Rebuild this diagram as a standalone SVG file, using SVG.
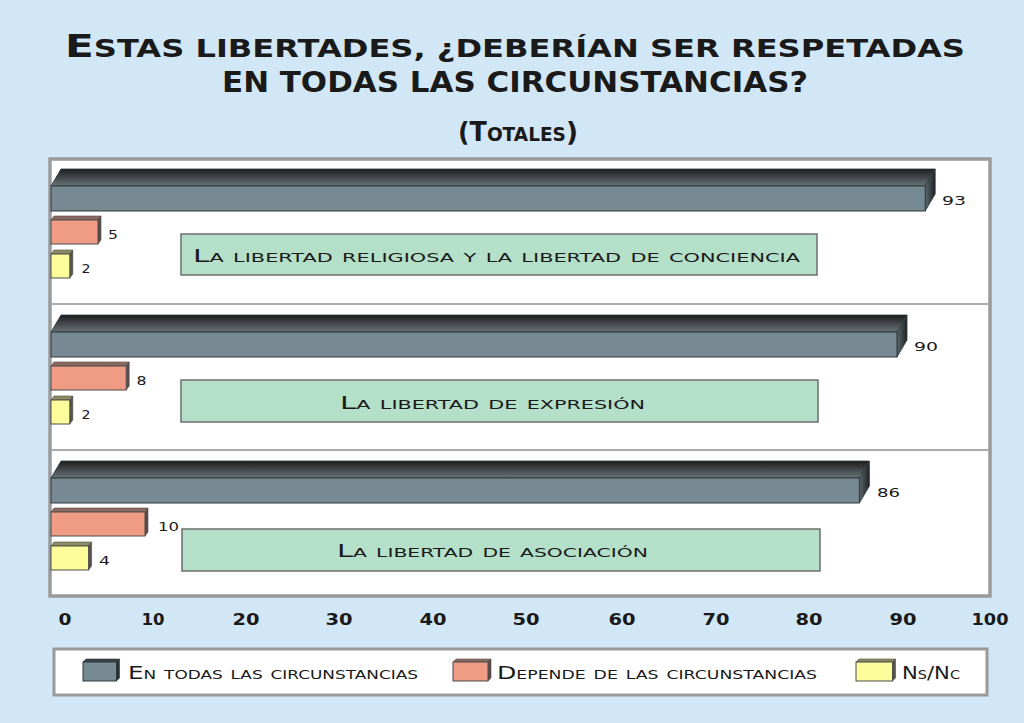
<svg xmlns="http://www.w3.org/2000/svg" width="1024" height="723" viewBox="0 0 1024 723">
<style>
.t{font-family:"DejaVu Sans","Liberation Sans",sans-serif;font-variant:small-caps;fill:#1a1a1a}
.title{font-weight:bold}
.up{text-transform:uppercase;font-variant:normal}
.box{fill:#b4dfc8;stroke:#6e6e6e;stroke-width:1.5}
.boxt{font-size:17px}
.val{font-size:12.5px}
.ax{font-size:16px;font-weight:bold;text-anchor:middle}
.leg{font-size:17.5px}
.bf{fill:#778a94;stroke:#2e383d;stroke-width:1}
.bt{fill:url(#gTop);stroke:#2e383d;stroke-width:0.8}
.bs{fill:url(#gSide);stroke:#2e383d;stroke-width:0.8}
.pf{fill:#f09c84;stroke:#4d4d4d;stroke-width:1}
.pt{fill:#8c6a60;stroke:#4d4d4d;stroke-width:0.6}
.ps{fill:#5a4d49;stroke:#4d4d4d;stroke-width:0.6}
.yf{fill:#fdfc9a;stroke:#4d4d4d;stroke-width:1}
.yt{fill:#8d8c62;stroke:#4d4d4d;stroke-width:0.6}
.ys{fill:#55554a;stroke:#4d4d4d;stroke-width:0.6}
.sep{stroke:#ababab;stroke-width:2}
</style>
<defs>
<linearGradient id="gTop" x1="0" y1="0" x2="0" y2="1">
<stop offset="0" stop-color="#1c1c1c"/>
<stop offset="1" stop-color="#6a7479"/>
</linearGradient>
<linearGradient id="gSide" x1="0" y1="0" x2="1" y2="0">
<stop offset="0" stop-color="#5c676d"/>
<stop offset="1" stop-color="#1f2224"/>
</linearGradient>
</defs>
<rect x="0" y="0" width="1024" height="723" fill="#d2e7f5"/>

<g id="title">
<text class="t title" x="65" y="57" font-size="31.5" textLength="900" lengthAdjust="spacingAndGlyphs">E<tspan class="up" font-size="24">stas libertades, ¿deberían ser respetadas</tspan></text>
<text class="t title up" x="222" y="92" font-size="28" textLength="586" lengthAdjust="spacingAndGlyphs">en todas las circunstancias<tspan font-size="29">?</tspan></text>
<text class="t title" x="458" y="141" textLength="120" lengthAdjust="spacingAndGlyphs"><tspan font-size="26">(T</tspan><tspan font-size="27">otales)</tspan></text>
</g>

<g id="plot">
<rect x="50" y="159" width="940" height="437" fill="#ffffff" stroke="#9a9a9a" stroke-width="3.5"/>
<line class="sep" x1="51" y1="304" x2="989" y2="304"/>
<line class="sep" x1="51" y1="450" x2="989" y2="450"/>
</g>

<g id="connectors"></g>

<g id="group-religiosa">
<polygon class="bt" points="51,186 61,169 935.2,169 925.2,186"/>
<polygon class="bs" points="925.2,186 935.2,169 935.2,194 925.2,211"/>
<rect class="bf" x="51" y="186" width="874.2" height="25"/>
<polygon class="pt" points="51,220 54,216 101,216 98,220"/>
<polygon class="ps" points="98,220 101,216 101,240 98,244"/>
<rect class="pf" x="51" y="220" width="47" height="24"/>
<polygon class="yt" points="51,254 54,250 72.8,250 69.8,254"/>
<polygon class="ys" points="69.8,254 72.8,250 72.8,274 69.8,278"/>
<rect class="yf" x="51" y="254" width="18.8" height="24"/>
<text class="t val" x="942" y="205" textLength="24" lengthAdjust="spacingAndGlyphs">93</text>
<text class="t val" x="108" y="238.5" textLength="10" lengthAdjust="spacingAndGlyphs">5</text>
<text class="t val" x="81.5" y="272.5" textLength="9" lengthAdjust="spacingAndGlyphs">2</text>
</g>

<g id="label-religiosa">
<rect class="box" x="181" y="234" width="636" height="41"/>
<text class="t boxt" x="193" y="262" textLength="607" lengthAdjust="spacingAndGlyphs">La libertad religiosa y la libertad de conciencia</text>
</g>

<g id="group-expresion">
<polygon class="bt" points="51,332 61,315 907,315 897,332"/>
<polygon class="bs" points="897,332 907,315 907,340 897,357"/>
<rect class="bf" x="51" y="332" width="846" height="25"/>
<polygon class="pt" points="51,366 54,362 129.2,362 126.2,366"/>
<polygon class="ps" points="126.2,366 129.2,362 129.2,386 126.2,390"/>
<rect class="pf" x="51" y="366" width="75.2" height="24"/>
<polygon class="yt" points="51,400 54,396 72.8,396 69.8,400"/>
<polygon class="ys" points="69.8,400 72.8,396 72.8,420 69.8,424"/>
<rect class="yf" x="51" y="400" width="18.8" height="24"/>
<text class="t val" x="914" y="351" textLength="24" lengthAdjust="spacingAndGlyphs">90</text>
<text class="t val" x="136.5" y="384.5" textLength="10" lengthAdjust="spacingAndGlyphs">8</text>
<text class="t val" x="81.5" y="418.5" textLength="9" lengthAdjust="spacingAndGlyphs">2</text>
</g>

<g id="label-expresion">
<rect class="box" x="181" y="380" width="637" height="42"/>
<text class="t boxt" x="340" y="408.5" textLength="305" lengthAdjust="spacingAndGlyphs">La libertad de expresión</text>
</g>

<g id="group-asociacion">
<polygon class="bt" points="51,478 61,461 869.4,461 859.4,478"/>
<polygon class="bs" points="859.4,478 869.4,461 869.4,486 859.4,503"/>
<rect class="bf" x="51" y="478" width="808.4" height="25"/>
<polygon class="pt" points="51,512 54,508 148,508 145,512"/>
<polygon class="ps" points="145,512 148,508 148,532 145,536"/>
<rect class="pf" x="51" y="512" width="94" height="24"/>
<polygon class="yt" points="51,546 54,542 91.6,542 88.6,546"/>
<polygon class="ys" points="88.6,546 91.6,542 91.6,566 88.6,570"/>
<rect class="yf" x="51" y="546" width="37.6" height="24"/>
<text class="t val" x="877" y="497" textLength="23" lengthAdjust="spacingAndGlyphs">86</text>
<text class="t val" x="158" y="530.5" textLength="21" lengthAdjust="spacingAndGlyphs">10</text>
<text class="t val" x="99" y="564.5" textLength="11" lengthAdjust="spacingAndGlyphs">4</text>
</g>

<g id="label-asociacion">
<rect class="box" x="182" y="529" width="638" height="42"/>
<text class="t boxt" x="337" y="557" textLength="311" lengthAdjust="spacingAndGlyphs">La libertad de asociación</text>
</g>

<g id="axis">
<text class="t ax" x="65" y="625" textLength="13" lengthAdjust="spacingAndGlyphs">0</text>
<text class="t ax" x="153" y="625" textLength="23" lengthAdjust="spacingAndGlyphs">10</text>
<text class="t ax" x="246" y="625" textLength="27" lengthAdjust="spacingAndGlyphs">20</text>
<text class="t ax" x="339" y="625" textLength="27" lengthAdjust="spacingAndGlyphs">30</text>
<text class="t ax" x="433" y="625" textLength="27" lengthAdjust="spacingAndGlyphs">40</text>
<text class="t ax" x="526" y="625" textLength="27" lengthAdjust="spacingAndGlyphs">50</text>
<text class="t ax" x="622" y="625" textLength="27" lengthAdjust="spacingAndGlyphs">60</text>
<text class="t ax" x="716" y="625" textLength="27" lengthAdjust="spacingAndGlyphs">70</text>
<text class="t ax" x="809" y="625" textLength="27" lengthAdjust="spacingAndGlyphs">80</text>
<text class="t ax" x="903" y="625" textLength="27" lengthAdjust="spacingAndGlyphs">90</text>
<text class="t ax" x="990" y="625" textLength="37" lengthAdjust="spacingAndGlyphs">100</text>
</g>

<g id="legend">
<rect x="54" y="649" width="933" height="46" fill="#ffffff" stroke="#9a9a9a" stroke-width="3"/>
<polygon points="83,662 86,659 119.5,659 116.5,662" fill="#3a4145" stroke="#2e383d" stroke-width="0.6"/>
<polygon points="116.5,662 119.5,659 119.5,678 116.5,681" fill="#2a2f32" stroke="#2e383d" stroke-width="0.6"/>
<rect class="bf" x="83" y="662" width="33.5" height="19"/>
<text class="t leg" x="128" y="679" textLength="290" lengthAdjust="spacingAndGlyphs">En todas las circunstancias</text>
<polygon class="pt" points="453,662 456,659 491,659 488,662"/>
<polygon class="ps" points="488,662 491,659 491,678 488,681"/>
<rect class="pf" x="453" y="662" width="35" height="19"/>
<text class="t leg" x="497" y="679" textLength="320" lengthAdjust="spacingAndGlyphs">Depende de las circunstancias</text>
<polygon class="yt" points="856,662 859,659 895.5,659 892.5,662"/>
<polygon class="ys" points="892.5,662 895.5,659 895.5,678 892.5,681"/>
<rect class="yf" x="856" y="662" width="36.5" height="19"/>
<text class="t leg" x="902" y="679" textLength="58" lengthAdjust="spacingAndGlyphs">Ns/Nc</text>
</g>
</svg>
